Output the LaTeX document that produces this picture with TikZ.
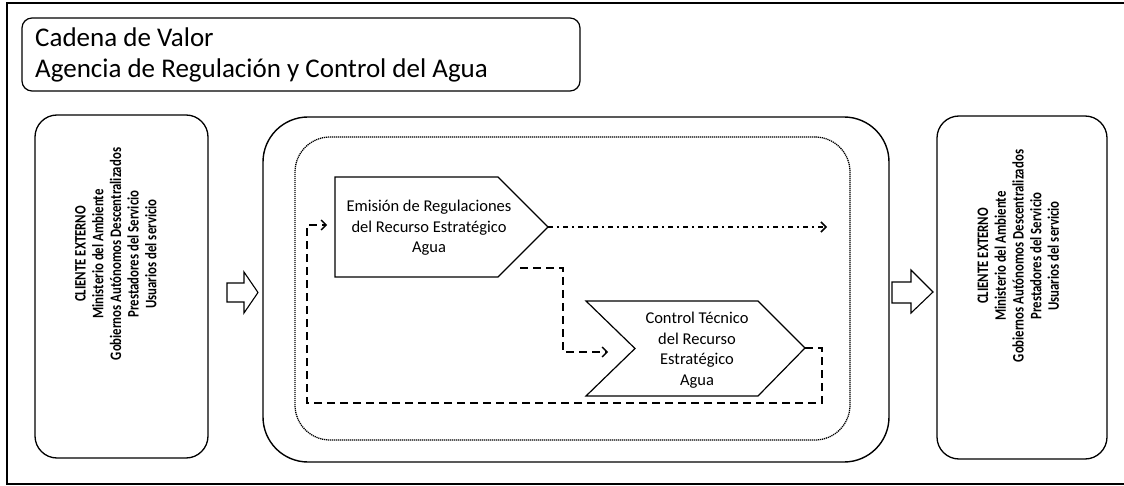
\documentclass[tikz,border=0pt]{standalone}
\usepackage{fontspec}
\usepackage{graphicx}
\setmainfont{Carlito}
\usetikzlibrary{arrows.meta}
\newcommand{\clientlines}{\scalebox{0.8}[1]{\begin{tabular}{@{}c@{}}CLIENTE EXTERNO\\Ministerio del Ambiente\\Gobiernos Autónomos Descentralizados\\Prestadores del Servicio\\Usuarios del servicio\end{tabular}}}
\begin{document}
\begin{tikzpicture}[x=1pt,y=-1pt,
  frame/.style={draw, line width=1.4pt},
  clientbox/.style={draw, line width=1.3pt, rounded corners=22pt, minimum width=173pt, minimum height=343pt, inner sep=0},
  proc/.style={draw, line width=1.2pt, line join=miter},
  blockarrow/.style={draw, line width=1.1pt, line join=miter},
  flow/.style={line width=1.4pt, dash pattern=on 8pt off 5pt},
  flowdd/.style={line width=1.5pt, dash pattern=on 5pt off 4pt on 2pt off 4pt},
  tipped/.style={-{Straight Barb[length=5pt,width=10pt]}},
  clienttext/.style={rotate=90, font=\bfseries\fontsize{16}{17.7}\selectfont, inner sep=0},
  proctext/.style={align=center, font=\fontsize{16.5}{20.5}\selectfont, inner sep=0},
  titletext/.style={anchor=base west, font=\fontsize{27}{30}\selectfont, inner sep=0},
]
\useasboundingbox (0,0) rectangle (1124,486);
\fill[white] (0,0) rectangle (1124,486);
\draw[frame] (7,3) rectangle (1130,484);

% title
\node[draw, line width=1.2pt, rounded corners=10pt, minimum width=558pt, minimum height=73pt, inner sep=0] (titlebox) at (301,54.5) {};
\node[titletext] (t1) at (35,47) {Cadena de Valor};
\node[titletext] (t2) at (35,78) {Agencia de Regulación y Control del Agua};

% client boxes
\node[clientbox] (cin) at (121.5,286.5) {};
\node[clienttext] (cintxt) at (117.5,254) {\clientlines};
\node[clientbox, minimum width=170pt] (cout) at (1022,287.5) {};
\node[clienttext] (couttxt) at (1020,256) {\clientlines};

% core boxes
\node[draw, line width=1.4pt, rounded corners=45pt, minimum width=626pt, minimum height=345pt, inner sep=0] (core) at (576,289.5) {};
\node[draw, line width=1.3pt, dash pattern=on 1.2pt off 0.8pt, rounded corners=35pt, minimum width=555pt, minimum height=303pt, inner sep=0] (inner) at (572.5,288.5) {};

% block arrows
\draw[blockarrow] (227,283) -- (244,283) -- (244,272) -- (258,292.5) -- (244,313) -- (244,302) -- (227,302) -- cycle;
\draw[blockarrow] (892,282) -- (911,282) -- (911,270) -- (933,292) -- (911,313) -- (911,303) -- (892,303) -- cycle;

% processes
\draw[proc] (335,177) -- (498,177) -- (548,227) -- (498,277) -- (335,277) -- cycle;
\coordinate (emtip) at (548,227);
\coordinate (emout) at (520,268);
\node[proctext] (em) at (429,228) {Emisión de Regulaciones\\del Recurso Estratégico\\Agua};

\draw[proc] (586,301) -- (758,301) -- (805,348) -- (758,396) -- (586,396) -- (635,348.5) -- cycle;
\coordinate (cttip) at (805,348);
\coordinate (ctin) at (608,352);
\node[proctext] (ct) at (697,350) {Control Técnico\\del Recurso\\Estratégico\\Agua};

% connectors
\coordinate (ddend) at (827,227);
\coordinate (backin) at (327,225);
\draw[flowdd, tipped] (emtip) -- (ddend);
\draw[flow, tipped] (emout) -- (563,268) -- (563,352) -- (ctin);
\draw[flow, tipped] (cttip) -- (822,348) -- (822,403) -- (307,403) -- (307,225) -- (backin);
\end{tikzpicture}
\end{document}
